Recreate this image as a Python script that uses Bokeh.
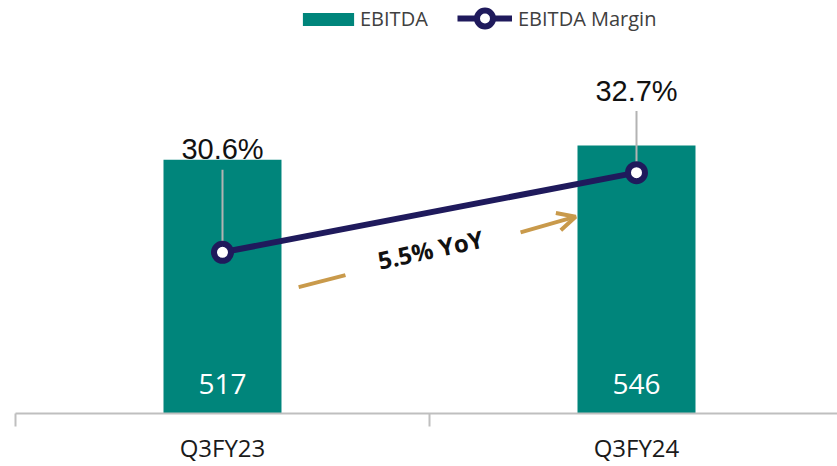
from bokeh.plotting import figure
from bokeh.models import (Range1d, FixedTicker, Legend, LegendItem, ColumnDataSource,
                          Arrow, OpenHead)
from bokeh.core.properties import value
from bokeh.embed import file_html
from bokeh.resources import INLINE

# ---- data ----
categories = ["Q3FY23", "Q3FY24"]
ebitda = [517, 546]
ebitda_labels = ["517", "546"]
margin = [30.6, 32.7]
margin_labels = ["30.6%", "32.7%"]
yoy_label = "5.5% YoY"

# ---- style ----
TEAL = "#00857b"
NAVY = "#1f1a5c"
GOLD = "#c99a4b"
GRAY = "#bfbfbf"
W, H = 837, 466
BOTTOM = 51
FRAME_H = H - BOTTOM
M_LO = 26.3475
M_HI = M_LO + FRAME_H / 38.095
PX_PER_PCT = FRAME_H / (M_HI - M_LO)
LABEL_LIFT = [103, 82]          # px above point for the margin labels

x = list(range(len(categories)))

p = figure(width=W, height=H, output_backend="svg", toolbar_location=None,
           x_range=Range1d(-0.5362, 1.4855), y_range=Range1d(0, FRAME_H / 0.4932),
           y_axis_location=None,
           min_border_left=0, min_border_right=0, min_border_top=0,
           min_border_bottom=BOTTOM)
p.extra_y_ranges = {"margin": Range1d(M_LO, M_HI)}
p.xgrid.visible = False
p.ygrid.visible = False
p.outline_line_color = None
p.background_fill_color = "white"

bars = p.vbar(x=x, top=ebitda, width=0.285, bottom=0, fill_color=TEAL, line_color=None)

p.text(x=x, y=[0] * len(x), text=ebitda_labels, y_offset=-30,
       text_align="center", text_baseline="middle", text_color="white",
       text_font=value("Open Sans"), text_font_size="28px")

# leader lines from labels to points
src = ColumnDataSource(dict(
    x=x, y=margin, lab=margin_labels, off=[-v for v in LABEL_LIFT],
    ytop=[m + (l - 20) / PX_PER_PCT for m, l in zip(margin, LABEL_LIFT)]))
p.segment(x0="x", y0="y", x1="x", y1="ytop", source=src, y_range_name="margin",
          line_color="#b3b3b3", line_width=2)

line_r = p.line(x=x, y=margin, y_range_name="margin", line_width=6, line_color=NAVY)
sc_r = p.scatter(x=x, y=margin, y_range_name="margin", size=17, fill_color="white",
                 line_color=NAVY, line_width=6)

p.text(x="x", y="y", text="lab", y_offset="off", source=src, y_range_name="margin",
       text_align="center", text_baseline="middle", text_color="#111111",
       text_font=value("Liberation Sans"), text_font_size="29px")

# YoY arrow annotation
p.segment(x0=[0.184], y0=[257.5], x1=[0.297], y1=[282], line_color=GOLD, line_width=4)
p.add_layout(Arrow(x_start=0.72, y_start=369, x_end=0.853, y_end=401,
                   line_color=GOLD, line_width=4,
                   end=OpenHead(size=18, line_width=4, line_color=GOLD)))
p.text(x=[0.502], y=[334.5], text=[yoy_label], angle=0.21,
       text_align="center", text_baseline="middle", text_color="#111111",
       text_font=value("Open Sans"), text_font_style="bold", text_font_size="24px")

ax = p.xaxis[0]
ax.ticker = FixedTicker(ticks=x, minor_ticks=[-0.5, 0.5, 1.5])
ax.major_label_overrides = {i: c for i, c in zip(x, categories)}
ax.bounds = (-0.5, 1.5)
ax.axis_line_color = GRAY
ax.axis_line_width = 2
ax.major_tick_out = 0
ax.major_tick_in = 0
ax.minor_tick_out = 13
ax.minor_tick_in = 0
ax.minor_tick_line_color = GRAY
ax.minor_tick_line_width = 2
ax.major_label_text_font = "Open Sans"
ax.major_label_text_font_size = "24px"
ax.major_label_text_color = "#1a1a1a"
ax.major_label_standoff = 4

common = dict(orientation="horizontal", padding=0, margin=0, border_line_color=None,
              background_fill_alpha=0, label_text_font="Open Sans",
              label_text_font_size="20px", label_text_color="#404040")
legend1 = Legend(items=[LegendItem(label="EBITDA", renderers=[bars])],
                 location=(296, FRAME_H - 34), glyph_width=64, glyph_height=16,
                 label_standoff=0, **common)
legend2 = Legend(items=[LegendItem(label="EBITDA Margin", renderers=[line_r, sc_r])],
                 location=(457, FRAME_H - 40), glyph_width=55, glyph_height=40,
                 label_standoff=6, **common)
p.add_layout(legend1)
p.add_layout(legend2)

open("out.html", "w").write(file_html(p, INLINE))
